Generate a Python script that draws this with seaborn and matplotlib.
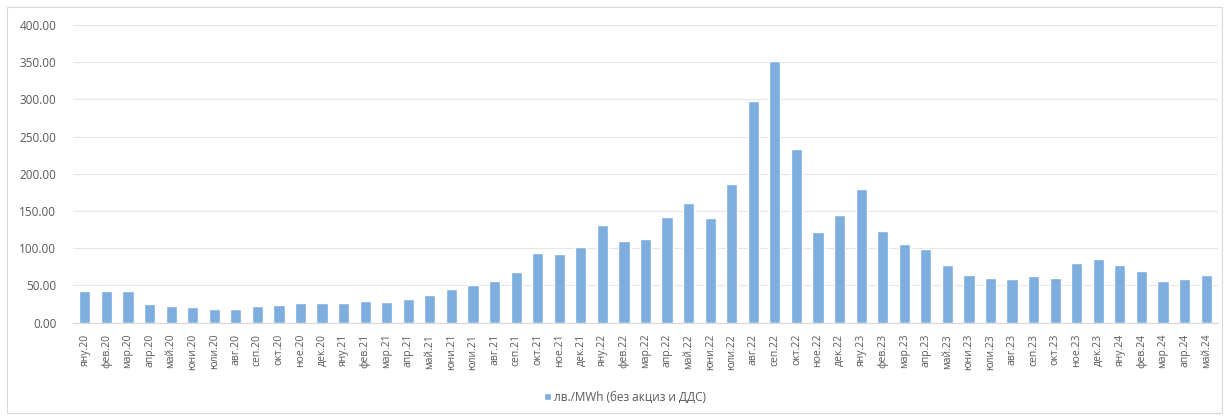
import matplotlib
matplotlib.use("Agg")
import matplotlib.pyplot as plt
import seaborn as sns
import pandas as pd
from matplotlib.patches import Rectangle

months = ["яну", "фев", "мар", "апр", "май", "юни", "юли", "авг", "сеп", "окт", "ное", "дек"]
categories = [f"{m}.{y}" for y in ["20", "21", "22", "23"] for m in months] + \
             [f"{m}.24" for m in months[:5]]

values = [
    43.0, 43.0, 43.0, 25.0, 22.4, 20.7, 18.8, 18.8, 22.4, 24.2, 26.9, 26.9,
    26.9, 29.6, 27.8, 32.3, 36.8, 45.7, 50.3, 56.5, 68.1, 94.1, 92.3, 101.3,
    131.7, 110.2, 112.9, 142.5, 161.3, 140.7, 186.4, 297.6, 352.2, 233.1, 121.9, 145.2,
    179.3, 123.7, 105.8, 98.7, 77.2, 64.5, 60.1, 58.3, 62.8, 60.1, 80.6, 86.0,
    77.2, 69.9, 56.5, 59.2, 63.7,
]
series_name = "лв./MWh (без акциз и ДДС)"
yticks = [0, 50, 100, 150, 200, 250, 300, 350, 400]

df = pd.DataFrame({"month": categories, "value": values})

sns.set_style("white")
plt.rcParams["font.family"] = ["Open Sans", "DejaVu Sans"]

W, H = 1231, 416
fig = plt.figure(figsize=(W / 100, H / 100), dpi=100)
ax = fig.add_axes([73 / W, 1 - 322.7 / H, (1218 - 73) / W, (322.7 - 25) / H])

bar_color = "#7DAEDE"
sns.barplot(data=df, x="month", y="value", color=bar_color, width=0.52,
            saturation=1, ax=ax, label=series_name)

ax.set_ylim(0, 400)
ax.set_xlim(-0.55, len(categories) - 0.45)
ax.set_yticks(yticks)
ax.set_yticklabels([f"{v:.2f}" for v in yticks], fontsize=8.5, color="#595959")
ax.tick_params(axis="x", labelrotation=90, labelsize=7.5, labelcolor="#595959", length=0, pad=8)
ax.tick_params(axis="y", length=0, pad=12)
ax.set_xlabel("")
ax.set_ylabel("")
ax.yaxis.grid(True, color="#E6E6E6", linewidth=0.8)
ax.set_axisbelow(True)
for s in ["left", "right", "top"]:
    ax.spines[s].set_visible(False)
ax.spines["bottom"].set_color("#D9D9D9")
ax.spines["bottom"].set_linewidth(0.8)

# chart border
fig.patches.append(Rectangle((7 / W, 3 / H), (1222 - 7) / W, (409 - 3) / H,
                             transform=fig.transFigure, fill=False,
                             edgecolor="#D9D9D9", linewidth=0.8))

leg = ax.legend(loc="center", bbox_to_anchor=(625 / W, 1 - 397 / H),
                bbox_transform=fig.transFigure, frameon=False, fontsize=8.5,
                handlelength=0.6, handleheight=0.6, handletextpad=0.3)
for t in leg.get_texts():
    t.set_color("#595959")

fig.savefig("out.png", dpi=100, facecolor="white")
